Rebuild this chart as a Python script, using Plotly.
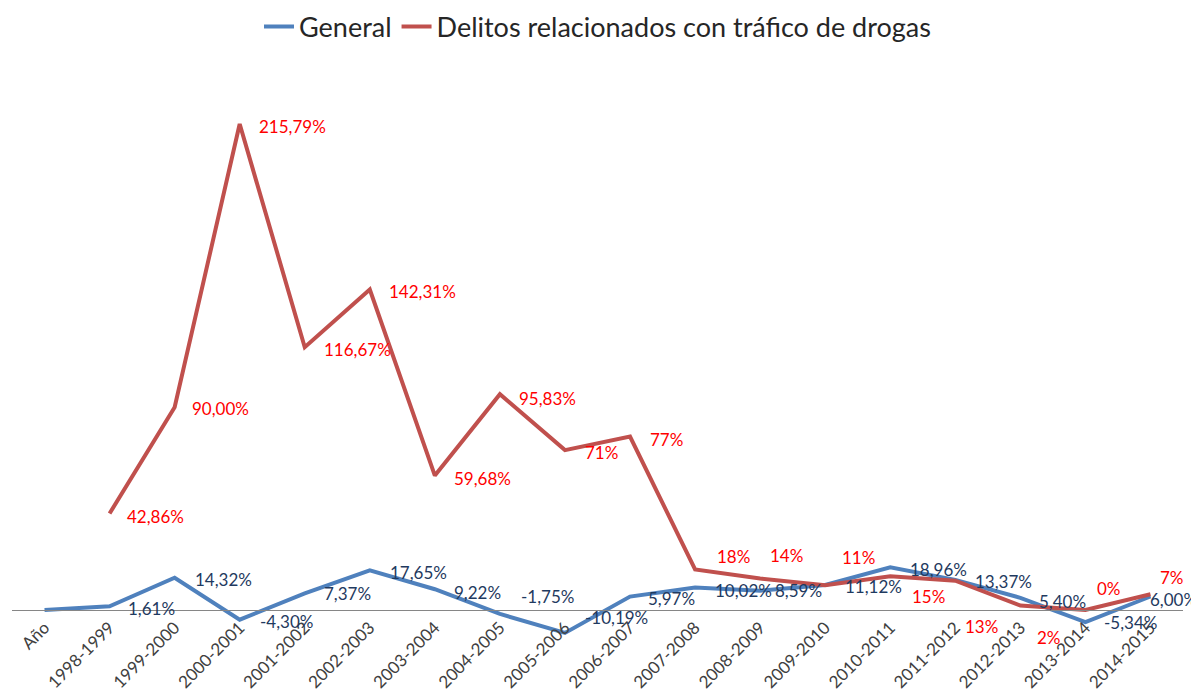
import plotly.graph_objects as go

categories = ["Año", "1998-1999", "1999-2000", "2000-2001", "2001-2002", "2002-2003",
              "2003-2004", "2004-2005", "2005-2006", "2006-2007", "2007-2008", "2008-2009",
              "2009-2010", "2010-2011", "2011-2012", "2012-2013", "2013-2014", "2014-2015"]

general = [0, 1.61, 14.32, -4.30, 7.37, 17.65, 9.22, -1.75, -10.19, 5.97, 10.02, 8.59,
           11.12, 18.96, 13.37, 5.40, -5.34, 6.00]
general_decimals = [None, 2, 2, 2, 2, 2, 2, 2, 2, 2, 2, 2, 2, 2, 2, 2, 2, 2]

drogas = [None, 42.86, 90.00, 215.79, 116.67, 142.31, 59.68, 95.83, 71, 77, 18, 14,
          11, 15, 13, 2, 0, 7]
drogas_decimals = [None, 2, 2, 2, 2, 2, 2, 2, 0, 0, 0, 0, 0, 0, 0, 0, 0, 0]

# label offsets in pixels (style only): (xshift from point to label's left edge, yshift up)
general_offsets = [(0, 0), (16, -2), (18, -2), (18, -2), (17, 0), (18, -2), (17, -3),
                   (19, 17), (18, 15), (16, -2), (18, -3), (13, 0), (18, -2), (18, -2),
                   (18, -2), (17, -4), (17, 0), (-2, -3)]
drogas_offsets = [(0, 0), (15, -3), (15, -1), (17, -2), (17, -2), (17, -2), (17, -3),
                  (17, -4), (18, -2), (18, -3), (20, 13), (8, 23), (15, 28), (20, -20),
                  (8, -46), (15, -32), (10, 22), (8, 17)]

BLUE = "#4F81BD"
RED = "#C0504D"
BLUE_TXT = "#1F3A60"
RED_TXT = "#FF0000"
FONT = "Lato"

# the page body has an 8px default margin, so the figure is drawn 8px smaller
OFF = 8
W, H = 1199 - OFF, 692 - OFF
M_T, M_B = 60 - OFF, 20
M_L, M_R = 12 - OFF, 16
ZERO_PX = 610 - OFF
PX_PER_UNIT = 2.252
ymax = (ZERO_PX - M_T) / PX_PER_UNIT
ymin = -(H - M_B - ZERO_PX) / PX_PER_UNIT
axis_pos = (0 - ymin) / (ymax - ymin)


def fmt(v, d):
    s = f"{v:.{d}f}".replace(".", ",")
    return s + "%"


fig = go.Figure()
fig.add_trace(go.Scatter(x=categories, y=general, mode="lines", name="General",
                         line=dict(color=BLUE, width=4)))
fig.add_trace(go.Scatter(x=categories, y=drogas, mode="lines",
                         name="Delitos relacionados con tráfico de drogas",
                         line=dict(color=RED, width=4)))

annotations = []
for cat, v, d, (dx, dy) in zip(categories, general, general_decimals, general_offsets):
    if v is None or d is None:
        continue
    annotations.append(dict(x=cat, y=v, xref="x", yref="y", text=fmt(v, d), showarrow=False,
                            xanchor="left", yanchor="middle", xshift=dx, yshift=dy,
                            font=dict(family=FONT, size=17, color=BLUE_TXT)))
for cat, v, d, (dx, dy) in zip(categories, drogas, drogas_decimals, drogas_offsets):
    if v is None or d is None:
        continue
    annotations.append(dict(x=cat, y=v, xref="x", yref="y", text=fmt(v, d), showarrow=False,
                            xanchor="left", yanchor="middle", xshift=dx, yshift=dy,
                            font=dict(family=FONT, size=17, color=RED_TXT)))

fig.update_layout(
    width=W, height=H,
    margin=dict(l=M_L, r=M_R, t=M_T, b=M_B, autoexpand=False),
    paper_bgcolor="white", plot_bgcolor="white",
    showlegend=True,
    legend=dict(orientation="h", x=0.5, xanchor="center", y=1 - (27 - OFF) / H,
                yanchor="middle", yref="container",
                font=dict(family=FONT, size=27, color="#262626"),
                itemwidth=30, tracegroupgap=0),
    annotations=annotations,
    xaxis=dict(type="category", categoryorder="array", categoryarray=categories,
               range=[-0.5, len(categories) - 0.5], showgrid=False, zeroline=False,
               showline=True, linecolor="#868686", linewidth=1, ticks="",
               tickangle=-45, tickfont=dict(family=FONT, size=17, color="#404040"),
               anchor="free", position=axis_pos, automargin=False),
    yaxis=dict(visible=False, range=[ymin, ymax], showgrid=False, zeroline=False,
               automargin=False),
)

fig.write_html("out.html")
